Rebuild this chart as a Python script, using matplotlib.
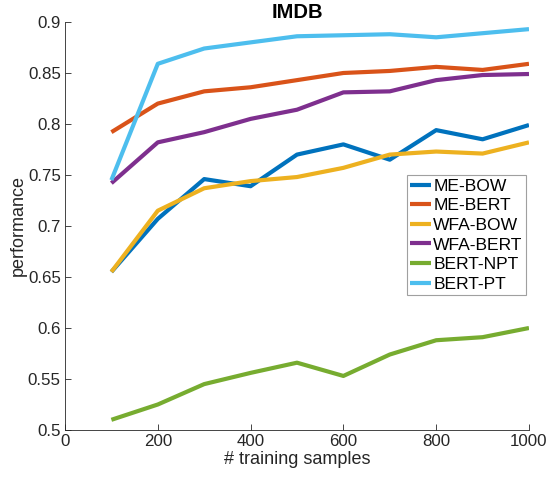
import matplotlib
matplotlib.use('Agg')
import matplotlib.pyplot as plt

plt.rcParams['font.family'] = ['Liberation Sans', 'DejaVu Sans']

# training set sizes
samples = [100, 200, 300, 400, 500, 600, 700, 800, 900, 1000]

# performance
me_bow = [0.655, 0.707, 0.746, 0.739, 0.770, 0.780, 0.765, 0.794, 0.785, 0.799]
me_bert = [0.792, 0.820, 0.832, 0.836, 0.843, 0.850, 0.852, 0.856, 0.853, 0.859]
wfa_bow = [0.655, 0.715, 0.737, 0.744, 0.748, 0.757, 0.770, 0.773, 0.771, 0.782]
wfa_bert = [0.742, 0.782, 0.792, 0.805, 0.814, 0.831, 0.832, 0.843, 0.848, 0.849]
bert_npt = [0.510, 0.525, 0.545, 0.556, 0.566, 0.553, 0.574, 0.588, 0.591, 0.600]
bert_pt = [0.745, 0.859, 0.874, 0.880, 0.886, 0.887, 0.888, 0.885, 0.889, 0.893]

series = [('ME-BOW', me_bow, '#0072BD'),
          ('ME-BERT', me_bert, '#D95319'),
          ('WFA-BOW', wfa_bow, '#EDB120'),
          ('WFA-BERT', wfa_bert, '#7E2F8E'),
          ('BERT-NPT', bert_npt, '#77AC30'),
          ('BERT-PT', bert_pt, '#4DBEEE')]

fig = plt.figure(figsize=(5.48, 4.78), dpi=100)
ax = fig.add_axes([0.1186, 0.1004, 0.8467, 0.8536])

for name, vals, col in series:
    ax.plot(samples, vals, color=col, lw=3, label=name, solid_capstyle='butt')

ax.set_xlim(0, 1000)
ax.set_ylim(0.5, 0.9)
ax.set_xticks([0, 200, 400, 600, 800, 1000])
ax.set_yticks([0.5, 0.55, 0.6, 0.65, 0.7, 0.75, 0.8, 0.85, 0.9])
ax.set_yticklabels(['0.5', '0.55', '0.6', '0.65', '0.7', '0.75', '0.8', '0.85', '0.9'])

for s in ['top', 'right']:
    ax.spines[s].set_visible(False)
for s in ['left', 'bottom']:
    ax.spines[s].set_color('#262626')
    ax.spines[s].set_linewidth(0.6)
ax.tick_params(direction='in', length=4, width=0.6, colors='#262626',
               labelsize=12.2, pad=3)

ax.set_xlabel('# training samples', fontsize=13, color='#262626', labelpad=1)
ax.set_ylabel('performance', fontsize=13, color='#262626', labelpad=1)
ax.set_title('IMDB', fontsize=14.5, fontweight='bold', pad=3)

leg = ax.legend(loc='upper left', bbox_to_anchor=(0.737, 0.625), fontsize=12.6,
                frameon=True, fancybox=False, framealpha=1, handlelength=1.15,
                handletextpad=0.15, labelspacing=0.25, borderpad=0.2,
                borderaxespad=0)
leg.get_frame().set_edgecolor('#a0a0a0')
leg.get_frame().set_linewidth(0.8)

fig.savefig('out.png', dpi=100)
